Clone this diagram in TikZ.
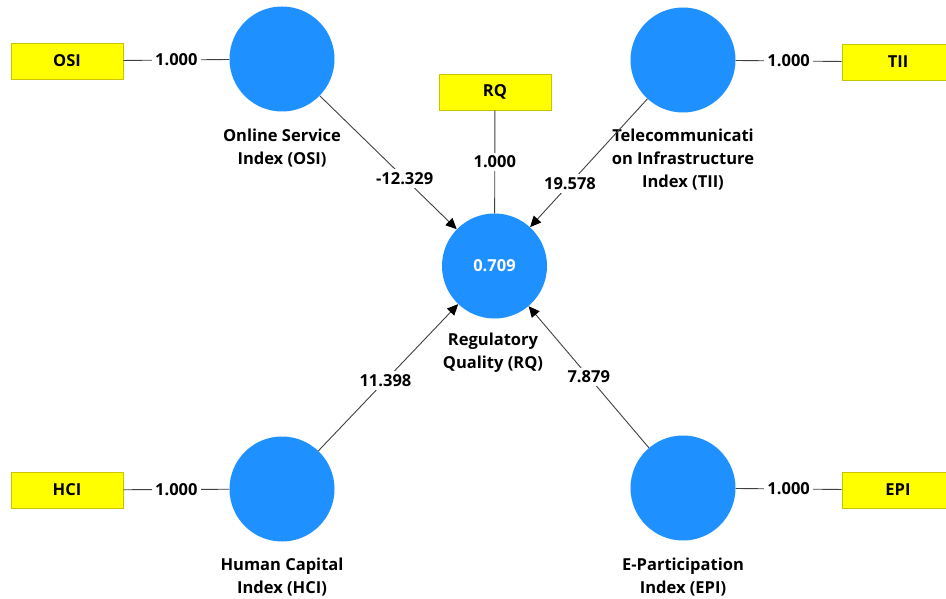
\documentclass[tikz,border=0pt]{standalone}
\usepackage{fontspec}
\setmainfont{Open Sans}
\usetikzlibrary{arrows.meta}
\definecolor{latent}{HTML}{1E90FF}
\definecolor{indic}{HTML}{FFFF00}
\definecolor{indicborder}{HTML}{C8C400}
\definecolor{linkgray}{HTML}{404040}
\tikzset{
  construct/.style={circle, fill=latent, draw=none, minimum size=105pt, inner sep=0pt,
    font=\fontsize{16.5}{18}\selectfont\bfseries, text=white},
  indicator/.style={rectangle, fill=indic, draw=indicborder, line width=0.8pt,
    minimum width=112pt, minimum height=36pt, inner sep=0pt,
    font=\fontsize{16.5}{18}\selectfont\bfseries, text=black},
  cname/.style={align=center, font=\fontsize{16.5}{23}\selectfont\bfseries, text=black, inner sep=0pt},
  weight/.style={fill=white, inner sep=3pt, font=\fontsize{16.5}{18}\selectfont\bfseries, text=black},
  loading/.style={draw=linkgray, line width=0.9pt},
  path/.style={draw=linkgray, line width=0.9pt, -{Triangle[length=11pt,width=10pt,color=black]}},
}
\begin{document}
\begin{tikzpicture}[x=1pt, y=-1pt]
  \useasboundingbox (0,0) rectangle (946,599);

  % constructs
  \node[construct] (osi) at (282,59) {};
  \node[construct] (tii) at (683,60) {};
  \node[construct] (rq)  at (494.5,266) {0.709};
  \node[construct] (hci) at (282,489) {};
  \node[construct] (epi) at (683,488) {};

  % indicators
  \node[indicator] (osii) at (67,61) {OSI};
  \node[indicator] (tiii) at (898,62) {TII};
  \node[indicator] (rqi)  at (495,92) {RQ};
  \node[indicator] (hcii) at (67,490) {HCI};
  \node[indicator] (epii) at (898,490) {EPI};

  % construct names
  \node[cname] (osin) at (282,148) {Online Service\\Index (OSI)};
  \node[cname] (tiin) at (683,160) {Telecommunicati\\on Infrastructure\\Index (TII)};
  \node[cname] (rqn)  at (493,353) {Regulatory\\Quality (RQ)};
  \node[cname] (hcin) at (282,577) {Human Capital\\Index (HCI)};
  \node[cname] (epin) at (683,577) {E-Participation\\Index (EPI)};

  % outer loadings
  \path[loading] (osii) -- node[weight] {1.000} (osi);
  \path[loading] (tii) -- node[weight] {1.000} (tiii);
  \path[loading] (rqi) -- node[weight] {1.000} (rq);
  \path[loading] (hcii) -- node[weight] {1.000} (hci);
  \path[loading] (epi) -- node[weight] {1.000} (epii);

  % structural paths
  \path[path] (osi) -- node[weight, pos=0.62] {-12.329} (rq);
  \path[path] (tii) -- node[weight, pos=0.66] {19.578} (rq);
  \path[path] (hci) -- node[weight, pos=0.48] {11.398} (rq);
  \path[path] (epi) -- node[weight, pos=0.50] {7.879} (rq);
\end{tikzpicture}
\end{document}
